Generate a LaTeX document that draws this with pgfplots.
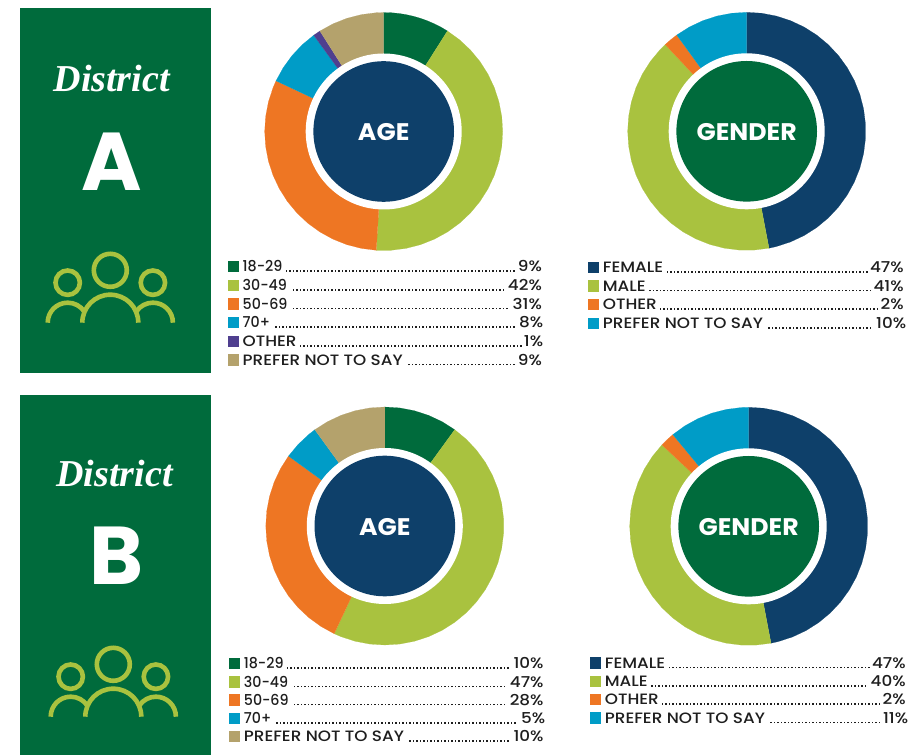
\documentclass[border=0pt]{standalone}
\usepackage{fontspec}
\setmainfont{Poppins}
\newfontfamily\serifit{Liberation Serif}
\newfontfamily\legf[FakeStretch=1.12]{Poppins Medium}
\newfontfamily\legn[FakeStretch=0.95]{Poppins Medium}
\newfontfamily\capf[FakeStretch=1.05]{Poppins}
\usepackage{pgfplots}
\usepgfplotslibrary{polar}
\pgfplotsset{compat=1.18}
\definecolor{dgreen}{RGB}{0,107,60}
\definecolor{navy}{RGB}{14,64,106}
\definecolor{lime}{RGB}{169,194,63}
\definecolor{orng}{RGB}{238,118,35}
\definecolor{cyanb}{RGB}{0,156,199}
\definecolor{purp}{RGB}{79,63,143}
\definecolor{tan2}{RGB}{180,162,108}
\definecolor{legtext}{RGB}{30,30,30}
% each wedge is given as: percent along the ring, radius (1 percent = 3.6 degrees clockwise from 12 o'clock)
\pgfplotsset{
  table/pct/.style={x expr=90-3.6*\thisrowno{0},y index=1,header=false},
  wedge/.style={fill=#1,draw=#1,line width=0.15pt,mark=none},
  ring/.style={hide axis,scale only axis,width=238pt,height=238pt,xmin=0,xmax=360,ymin=0,ymax=119,clip=false,anchor=center}
}
\newcommand{\leg}[6]{%
  \fill[#3] (axis cs:{#1},{#2-5.6}) rectangle (axis cs:{#1+11.2},{#2+5.6});
  \node[anchor=base west,inner sep=0pt,text=legtext,font=\fontsize{15}{15}\selectfont\legf] at (axis cs:{#1+14.7},{#2+5.2})
    {\hbox to \dimexpr#6pt-#1pt-14.7pt\relax{#4\kern2pt\leaders\hbox to 3.5pt{\hss\rule{1.6pt}{1.6pt}\hss}\hfill\kern1pt #5}};
}
\newcommand{\centerdisc}[3]{%
  \fill[white] (axis cs:0,0) circle[radius=78pt];
  \fill[#1] (axis cs:0,0) circle[radius=70.3pt];
  \node[text=white,font=\fontsize{24}{24}\selectfont\capf\bfseries,yshift=-1pt] at (axis cs:0,0) {#2};
}
\newcommand{\people}[2]{%
  \begin{scope}[x=1pt,y=-1pt,yshift=755pt,shift={(#1,#2)},draw=lime,line width=4.6pt]
    \draw (110.3,270.3) circle[radius=16.5pt];
    \draw (67.7,282.7) circle[radius=12.2pt];
    \draw (152.9,282.7) circle[radius=12.2pt];
    \draw (82.3,322.7) arc[start angle=180,end angle=0,radius=28pt];
    \draw (47.7,322.7) arc[start angle=180,end angle=34,radius=20pt];
    \draw (172.9,322.7) arc[start angle=0,end angle=146,radius=20pt];
  \end{scope}
}
\begin{document}
\begin{tikzpicture}
\fill[white] (0,0) rectangle (924pt,755pt);
\begin{axis}[hide axis,scale only axis,x=1pt,y=1pt,xmin=0,xmax=924,ymin=0,ymax=755,y dir=reverse,clip=false,at={(0,0)},anchor=south west]
  \addplot[fill=dgreen,draw=none] coordinates {(19.5,7.5) (210.5,7.5) (210.5,373) (19.5,373)};
  \addplot[fill=dgreen,draw=none] coordinates {(19.5,395) (210.5,395) (210.5,755) (19.5,755)};
  \node[anchor=base,inner sep=0pt,text=white,font=\fontsize{38}{38}\selectfont\serifit\bfseries\itshape] at (axis cs:111.7,91.7) {District};
  \node[anchor=base,inner sep=0pt,text=white,font=\fontsize{38}{38}\selectfont\serifit\bfseries\itshape] at (axis cs:114.5,486) {District};
  \node[anchor=base,inner sep=0pt,text=white,font=\fontsize{82}{82}\selectfont\bfseries] at (axis cs:111.8,190) {A};
  \node[anchor=base,inner sep=0pt,text=white,font=\fontsize{82}{82}\selectfont\bfseries] at (axis cs:116.3,584) {B};
  \leg{227.8}{266.7}{dgreen}{{\legn 18-29}}{9\%}{541.7}
  \leg{227.8}{285.3}{lime}{{\legn 30-49}}{42\%}{541.7}
  \leg{227.8}{304}{orng}{{\legn 50-69}}{31\%}{541.7}
  \leg{227.8}{322.7}{cyanb}{{\legn 70+}}{8\%}{543}
  \leg{227.8}{341.3}{purp}{OTHER}{1\%}{543}
  \leg{227.8}{360}{tan2}{PREFER NOT TO SAY}{9\%}{541.7}
  \leg{588}{267.3}{navy}{FEMALE}{47\%}{903.5}
  \leg{588}{286}{lime}{MALE}{41\%}{903.5}
  \leg{588}{304.7}{orng}{OTHER}{2\%}{903.5}
  \leg{588}{323.3}{cyanb}{PREFER NOT TO SAY}{10\%}{906}
  \leg{229}{663.5}{dgreen}{{\legn 18-29}}{10\%}{543.3}
  \leg{229}{682}{lime}{{\legn 30-49}}{47\%}{543.3}
  \leg{229}{700}{orng}{{\legn 50-69}}{28\%}{543.3}
  \leg{229}{718.3}{cyanb}{{\legn 70+}}{5\%}{545}
  \leg{229}{736.7}{tan2}{PREFER NOT TO SAY}{10\%}{543.3}
  \leg{590}{663}{navy}{FEMALE}{47\%}{905.5}
  \leg{590}{681.5}{lime}{MALE}{40\%}{905.5}
  \leg{590}{699.7}{orng}{OTHER}{2\%}{905.5}
  \leg{590}{718}{cyanb}{PREFER NOT TO SAY}{11\%}{908}
\end{axis}
\people{0}{0}
\people{3}{394}

% District A, AGE: 9, 42, 31, 8, 1, 9
\begin{polaraxis}[ring,at={(383.7pt,623.5pt)}]
\addplot[wedge=dgreen] table[pct] {
0 0
0 119
1 119
2 119
3 119
4 119
5 119
6 119
7 119
8 119
9 119
};
\addplot[wedge=lime] table[pct] {
9 0
9 119
11 119
13 119
15 119
17 119
19 119
21 119
23 119
25 119
27 119
29 119
31 119
33 119
35 119
37 119
39 119
41 119
43 119
45 119
47 119
49 119
51 119
};
\addplot[wedge=orng] table[pct] {
51 0
51 119
53 119
55 119
57 119
59 119
61 119
63 119
65 119
67 119
69 119
71 119
73 119
75 119
77 119
79 119
81 119
82 119
};
\addplot[wedge=cyanb] table[pct] {
82 0
82 119
84 119
86 119
88 119
90 119
};
\addplot[wedge=purp] table[pct] {
90 0
90 119
91 119
};
\addplot[wedge=tan2] table[pct] {
91 0
91 119
93 119
95 119
97 119
99 119
100 119
};
\centerdisc{navy}{AGE}{}
\end{polaraxis}

% District A, GENDER: 47, 41, 2, 10
\begin{polaraxis}[ring,at={(746.7pt,623.7pt)}]
\addplot[wedge=navy] table[pct] {
0 0
0 119
2 119
4 119
6 119
8 119
10 119
12 119
14 119
16 119
18 119
20 119
22 119
24 119
26 119
28 119
30 119
32 119
34 119
36 119
38 119
40 119
42 119
44 119
46 119
47 119
};
\addplot[wedge=lime] table[pct] {
47 0
47 119
49 119
51 119
53 119
55 119
57 119
59 119
61 119
63 119
65 119
67 119
69 119
71 119
73 119
75 119
77 119
79 119
81 119
83 119
85 119
87 119
88 119
};
\addplot[wedge=orng] table[pct] {
88 0
88 119
89 119
90 119
};
\addplot[wedge=cyanb] table[pct] {
90 0
90 119
92 119
94 119
96 119
98 119
100 119
};
\centerdisc{dgreen}{GENDER}{}
\end{polaraxis}

% District B, AGE: 10, 47, 28, 5, 10
\begin{polaraxis}[ring,at={(384.8pt,229pt)}]
\addplot[wedge=dgreen] table[pct] {
0 0
0 119
2 119
4 119
6 119
8 119
10 119
};
\addplot[wedge=lime] table[pct] {
10 0
10 119
12 119
14 119
16 119
18 119
20 119
22 119
24 119
26 119
28 119
30 119
32 119
34 119
36 119
38 119
40 119
42 119
44 119
46 119
48 119
50 119
52 119
54 119
56 119
57 119
};
\addplot[wedge=orng] table[pct] {
57 0
57 119
59 119
61 119
63 119
65 119
67 119
69 119
71 119
73 119
75 119
77 119
79 119
81 119
83 119
85 119
};
\addplot[wedge=cyanb] table[pct] {
85 0
85 119
87 119
89 119
90 119
};
\addplot[wedge=tan2] table[pct] {
90 0
90 119
92 119
94 119
96 119
98 119
100 119
};
\centerdisc{navy}{AGE}{}
\end{polaraxis}

% District B, GENDER: 47, 40, 2, 11
\begin{polaraxis}[ring,at={(748.7pt,228.7pt)}]
\addplot[wedge=navy] table[pct] {
0 0
0 119
2 119
4 119
6 119
8 119
10 119
12 119
14 119
16 119
18 119
20 119
22 119
24 119
26 119
28 119
30 119
32 119
34 119
36 119
38 119
40 119
42 119
44 119
46 119
47 119
};
\addplot[wedge=lime] table[pct] {
47 0
47 119
49 119
51 119
53 119
55 119
57 119
59 119
61 119
63 119
65 119
67 119
69 119
71 119
73 119
75 119
77 119
79 119
81 119
83 119
85 119
87 119
};
\addplot[wedge=orng] table[pct] {
87 0
87 119
88 119
89 119
};
\addplot[wedge=cyanb] table[pct] {
89 0
89 119
91 119
93 119
95 119
97 119
99 119
100 119
};
\centerdisc{dgreen}{GENDER}{}
\end{polaraxis}
\end{tikzpicture}
\end{document}
